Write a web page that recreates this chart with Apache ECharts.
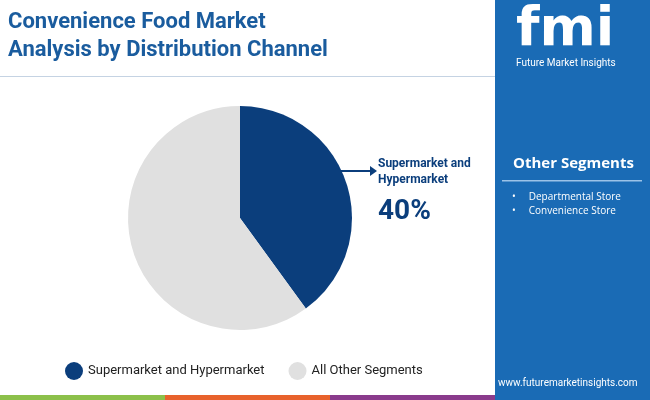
<!DOCTYPE html>
<html>
<head>
<meta charset="utf-8">
<script src="https://cdn.jsdelivr.net/npm/echarts@6/dist/echarts.min.js"></script>
<style>html,body{margin:0;padding:0;background:#fff}#main{width:650px;height:400px}</style>
</head>
<body>
<div id="main"></div>
<script>
// 分销渠道份额
var segments = ['Supermarket and Hypermarket', 'All Other Segments'];
var shares = [40, 60];
var segColors = ['#0b3e7c', '#e0e0e0'];
var otherSegments = ['Departmental Store', 'Convenience Store'];

var myChart = echarts.init(document.getElementById('main'));

var graphics = [
    {type: 'rect', shape: {x: 495, y: 0, width: 155, height: 400}, style: {fill: '#1a6bb5'}},
    {type: 'rect', shape: {x: 0, y: 395, width: 165, height: 5}, style: {fill: '#8cc04a'}},
    {type: 'rect', shape: {x: 165, y: 395, width: 165, height: 5}, style: {fill: '#e8622c'}},
    {type: 'rect', shape: {x: 330, y: 395, width: 165, height: 5}, style: {fill: '#8a3b8c'}},
    {type: 'rect', shape: {x: 0, y: 76, width: 495, height: 1}, style: {fill: '#c5d3e3'}},
    {type: 'text', left: 8, top: 8, style: {text: 'Convenience Food Market\nAnalysis by Distribution Channel', fill: '#1a5c9e', font: 'bold 22px Roboto', lineHeight: 28}},
    {type: 'text', left: 516, top: 4, style: {text: 'fmi', fill: '#fff', font: 'bold 54px "DejaVu Sans"'}},
    {type: 'text', left: 516, top: 58, style: {text: 'Future Market Insights', fill: '#fff', font: '10px Roboto'}},
    {type: 'text', left: 513, top: 156, style: {text: 'Other Segments', fill: '#fff', font: 'bold 15px "Open Sans"'}},
    {type: 'rect', shape: {x: 502, y: 180, width: 140, height: 1.5}, style: {fill: '#9cc3e8'}},
    {type: 'text', left: 512, top: 190, style: {text: '•     ' + otherSegments.join('\n•     '), fill: '#fff', font: '10px "Open Sans"', lineHeight: 14}},
    {type: 'text', left: 498, top: 378, style: {text: 'www.futuremarketinsights.com', fill: '#fff', font: '10px Roboto'}},
    {type: 'line', shape: {x1: 336, y1: 171, x2: 370, y2: 171}, style: {stroke: '#0b3e7c', lineWidth: 2}},
    {type: 'polygon', shape: {points: [[370, 166], [377, 171], [370, 176]]}, style: {fill: '#0b3e7c'}},
    {type: 'text', left: 378, top: 156, style: {text: 'Supermarket and\nHypermarket', fill: '#0b3e7c', font: 'bold 12px Roboto', lineHeight: 16}},
    {type: 'text', left: 378, top: 198, style: {text: shares[0] + '%', fill: '#0b3e7c', font: 'bold 28px Roboto'}}
];

var option = {
    color: segColors,
    graphic: graphics,
    legend: {
        left: 60,
        top: 357,
        icon: 'circle',
        itemWidth: 18,
        itemHeight: 18,
        itemGap: 24,
        textStyle: {fontFamily: 'Roboto', fontSize: 13, color: '#222'},
        data: segments
    },
    series: [{
        type: 'pie',
        center: [240, 218],
        radius: [0, 112],
        startAngle: 90,
        clockwise: true,
        label: {show: false},
        labelLine: {show: false},
        silent: true,
        data: segments.map(function (s, i) { return {name: s, value: shares[i]}; })
    }]
};
myChart.setOption(option);
</script>
</body>
</html>
